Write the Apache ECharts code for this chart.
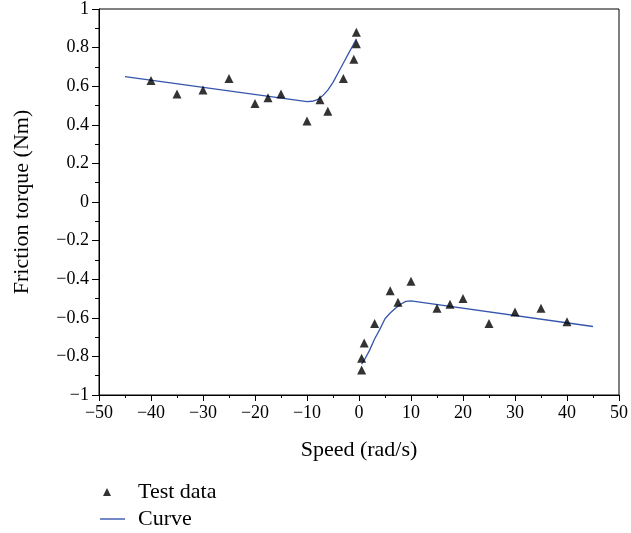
<!DOCTYPE html>
<html>
<head>
<meta charset="utf-8">
<script src="https://cdn.jsdelivr.net/npm/echarts@6/dist/echarts.min.js"></script>
<style>
  html, body { margin: 0; padding: 0; background: #fff; }
  #chart { width: 631px; height: 533px; }
</style>
</head>
<body>
<div id="chart"></div>
<script>
// test data (speed rad/s, torque Nm)
const testSpeed = [-40, -35, -30, -25, -20, -17.5, -15, -10, -7.5, -6, -3, -1, -0.5, -0.5,
  0.5, 0.5, 1, 3, 6, 7.5, 10, 15, 17.5, 20, 25, 30, 35, 40]
const testTorque = [0.63, 0.56, 0.58, 0.64, 0.51, 0.54, 0.56, 0.42, 0.53, 0.47, 0.64, 0.74, 0.88, 0.82,
  -0.87, -0.81, -0.73, -0.63, -0.46, -0.52, -0.41, -0.55, -0.53, -0.50, -0.63, -0.57, -0.55, -0.62]

// fitted curve, negative and positive branch
const curveNegSpeed = [-45, -10, -9, -8, -7, -6, -5, -4, -3, -2, -1, -0.5]
const curveNegTorque = [0.65, 0.52, 0.522, 0.53, 0.55, 0.58, 0.62, 0.67, 0.72, 0.77, 0.82, 0.845]
const curvePosSpeed = [0.5, 1, 2, 3, 4, 5, 6, 7, 8, 9, 10, 45]
const curvePosTorque = [-0.84, -0.82, -0.77, -0.71, -0.66, -0.605, -0.575, -0.55, -0.53, -0.515, -0.512, -0.645]

const pairs = (xs, ys) => xs.map((x, i) => [x, ys[i]])
const minus = v => String(v).replace('-', '\u2212')

const font = 'Liberation Serif'
const curveColor = '#3656ad'

const option = {
  animation: false,
  grid: {
    left: 99, right: 10, top: 9, bottom: 138,
    show: true, borderColor: '#000', borderWidth: 1
  },
  legend: [
    {
      data: [{ name: 'Test data', icon: 'triangle' }],
      left: 103, top: 481, padding: 0,
      itemWidth: 8, itemHeight: 8,
      textStyle: { fontFamily: font, fontSize: 22, color: '#000', padding: [0, 0, 0, 22] }
    },
    {
      data: [{ name: 'Curve', icon: 'rect' }],
      left: 100, top: 508, padding: 0,
      itemWidth: 25, itemHeight: 1.4,
      itemStyle: { color: curveColor },
      textStyle: { fontFamily: font, fontSize: 22, color: '#000', padding: [0, 0, 0, 8] }
    }
  ],
  xAxis: {
    type: 'value',
    min: -50, max: 50, interval: 10,
    name: 'Speed (rad/s)',
    nameLocation: 'middle',
    nameGap: 44,
    nameTextStyle: { fontFamily: font, fontSize: 22, color: '#000' },
    axisLine: { onZero: false, lineStyle: { color: '#000', width: 1 } },
    axisTick: { length: 6, lineStyle: { color: '#000' } },
    minorTick: { show: true, splitNumber: 2, length: 3, lineStyle: { color: '#000' } },
    splitLine: { show: false },
    axisLabel: { fontFamily: font, fontSize: 18, color: '#000', margin: 9, formatter: minus }
  },
  yAxis: {
    type: 'value',
    min: -1, max: 1, interval: 0.2,
    name: 'Friction torque (Nm)',
    nameLocation: 'middle',
    nameGap: 66,
    nameTextStyle: { fontFamily: font, fontSize: 22, color: '#000' },
    axisLine: { show: true, onZero: false, lineStyle: { color: '#000', width: 1 } },
    axisTick: { show: true, length: 7, lineStyle: { color: '#000' } },
    minorTick: { show: true, splitNumber: 2, length: 4, lineStyle: { color: '#000' } },
    splitLine: { show: false },
    axisLabel: {
      fontFamily: font, fontSize: 18, color: '#000', margin: 10,
      formatter: v => minus(Math.round(v * 10) / 10)
    }
  },
  series: [
    {
      name: 'Test data',
      type: 'scatter',
      symbol: 'triangle',
      symbolSize: 9,
      itemStyle: { color: '#000' },
      data: pairs(testSpeed, testTorque),
      z: 3
    },
    {
      name: 'Curve',
      type: 'line',
      symbol: 'none',
      lineStyle: { color: curveColor, width: 1.3 },
      itemStyle: { color: curveColor },
      data: pairs(curveNegSpeed, curveNegTorque)
    },
    {
      name: 'Curve',
      type: 'line',
      symbol: 'none',
      lineStyle: { color: curveColor, width: 1.3 },
      itemStyle: { color: curveColor },
      data: pairs(curvePosSpeed, curvePosTorque)
    }
  ]
}

echarts.init(document.getElementById('chart')).setOption(option)
</script>
</body>
</html>
